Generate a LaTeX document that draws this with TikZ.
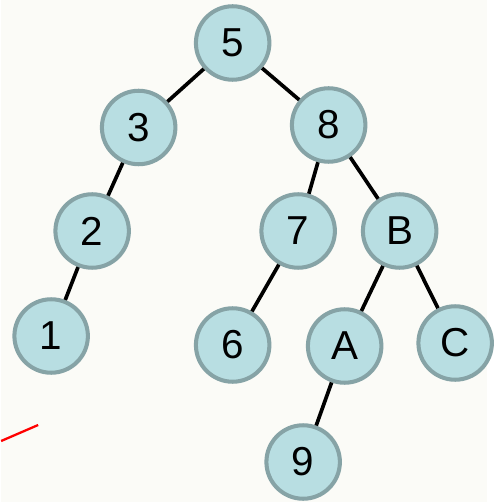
\documentclass[tikz,border=0pt]{standalone}
\usepackage{fontspec}
\setmainfont{Liberation Sans}
\definecolor{nodefill}{RGB}{184,222,226}
\definecolor{nodeline}{RGB}{134,163,166}
\definecolor{paper}{RGB}{251,251,247}
\begin{document}
\begin{tikzpicture}[x=0.02cm,y=-0.02cm,
    vert/.style={circle,draw=nodeline,fill=nodefill,line width=2.3pt,
      minimum size=1.47cm,inner sep=0pt,font=\fontsize{23}{27}\selectfont},
    edge/.style={line width=2.1pt,black}]
    \fill[paper] (0,0) rectangle (486,502);
    \node[vert] (n5) at (231.5,43) {5}; \node[vert] (n3) at (137.5,127.5) {3};
    \node[vert] (n8) at (327.5,125) {8}; \node[vert] (n2) at (91,231) {2};
    \node[vert] (n1) at (50,336) {1}; \node[vert] (n7) at (297,231) {7};
    \node[vert] (nB) at (398.5,231) {B}; \node[vert] (n6) at (231.5,345) {6};
    \node[vert] (nA) at (343.5,346) {A}; \node[vert] (nC) at (454,343) {C};
    \node[vert] (n9) at (302,462) {9};
    \foreach\a/\b in{n5/n3,n5/n8,n3/n2,n2/n1,n8/n7,n8/nB,n7/n6,nB/nA,nB/nC,nA/n9}{
      \draw[edge] (\a)--(\b);};
    \coordinate (r1) at (0,441); \coordinate (r2) at (37,425);
    \draw[red,line width=1.3pt] (r1)--(r2);
  \end{tikzpicture}
\end{document}
